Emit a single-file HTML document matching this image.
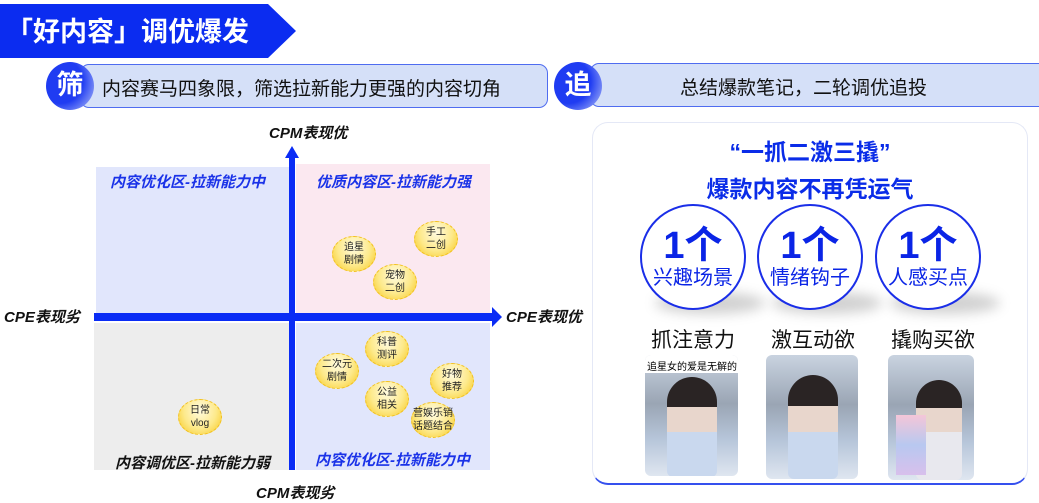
<!DOCTYPE html>
<html><head><meta charset="utf-8"><style>
*{margin:0;padding:0;box-sizing:border-box}
body{width:1039px;height:499px;background:#fff;position:relative;overflow:hidden;font-family:"Liberation Sans","Noto Sans CJK SC",sans-serif}
.a{position:absolute}
.q{position:absolute;font-weight:bold;font-style:italic;font-size:15px;white-space:nowrap}
.b{position:absolute;width:44px;height:36px;border-radius:50%;border:1.5px dashed #f3c01c;background:radial-gradient(ellipse at 50% 30%,#fffbe0 0%,#fde98a 55%,#f7c71b 100%);font-size:10px;line-height:13px;text-align:center;display:flex;align-items:center;justify-content:center;color:#222}
.ax{position:absolute;font-weight:bold;font-style:italic;font-size:14px;color:#111;white-space:nowrap}
.c{position:absolute;width:106px;height:106px;border-radius:50%;border:2px solid #1a2ee8;background:#fff;text-align:center;color:#0a24e6}
.c .n{font-size:38px;font-weight:bold;line-height:40px;margin-top:20px}
.c .t{font-size:20px;line-height:24px}
.sh{position:absolute;width:110px;height:22px;border-radius:50%;background:rgba(0,0,0,0.18);filter:blur(6px)}
.lab{position:absolute;font-size:21px;color:#111;white-space:nowrap}
.ph{position:absolute;border-radius:6px;overflow:hidden;background:linear-gradient(#c9d3e0,#9aa5b4 40%,#b7c6da 70%,#dfe6f0)}
</style></head><body>
<svg class="a" style="left:0;top:4px" width="300" height="54"><polygon points="0,0 268,0 296,27 268,54 0,54" fill="#0b2cf0"/></svg>
<div class="a" style="left:6px;top:10px;color:#fff;font-size:27px;font-weight:bold;white-space:nowrap">「好内容」调优爆发</div>
<div class="a" style="left:80px;top:64px;width:468px;height:44px;background:#d5e0f8;border:1.5px solid #4f6cf0;border-radius:9px"></div>
<div class="a" style="left:46px;top:62px;width:48px;height:48px;border-radius:50%;background:radial-gradient(circle at 30% 40%,#1f3cf2 50%,#8b9cf6 85%,#dde3fb);color:#fff;font-size:27px;font-weight:bold;text-align:center;line-height:46px">筛</div>
<div class="a" style="left:102px;top:74px;font-size:19px;color:#111;white-space:nowrap">内容赛马四象限，筛选拉新能力更强的内容切角</div>
<div class="a" style="left:590px;top:63px;width:460px;height:44px;background:#d5e0f8;border:1.5px solid #4f6cf0;border-radius:9px"></div>
<div class="a" style="left:554px;top:62px;width:48px;height:48px;border-radius:50%;background:radial-gradient(circle at 30% 40%,#1f3cf2 50%,#8b9cf6 85%,#dde3fb);color:#fff;font-size:27px;font-weight:bold;text-align:center;line-height:46px">追</div>
<div class="a" style="left:680px;top:73px;font-size:19px;color:#111;white-space:nowrap">总结爆款笔记，二轮调优追投</div>
<div class="a" style="left:96px;top:167px;width:196px;height:146px;background:#e1e6fc"></div>
<div class="a" style="left:296px;top:164px;width:194px;height:149px;background:#fbe8f0"></div>
<div class="a" style="left:94px;top:323px;width:198px;height:147px;background:#ededed"></div>
<div class="a" style="left:296px;top:323px;width:194px;height:147px;background:#e1e6fc"></div>
<div class="q" style="left:110px;top:171px;color:#1a32e8">内容优化区-拉新能力中</div>
<div class="q" style="left:316px;top:171px;color:#1a32e8">优质内容区-拉新能力强</div>
<div class="q" style="left:115px;top:452px;color:#111">内容调优区-拉新能力弱</div>
<div class="q" style="left:315px;top:449px;color:#1a32e8">内容优化区-拉新能力中</div>
<svg class="a" style="left:0;top:0" width="1039" height="499">
<rect x="289" y="156" width="6" height="314" fill="#0a2cf5"/>
<polygon points="285,158 292,146 299,158" fill="#0a2cf5"/>
<rect x="94" y="313" width="400" height="8" fill="#0a2cf5"/>
<polygon points="492,307 502,317 492,327" fill="#0a2cf5"/>
</svg>
<div class="ax" style="left:269px;top:122px;font-size:15px">CPM表现优</div>
<div class="ax" style="left:4px;top:306px;font-size:15px">CPE表现劣</div>
<div class="ax" style="left:506px;top:306px;font-size:15px">CPE表现优</div>
<div class="ax" style="left:256px;top:482px;font-size:15px">CPM表现劣</div>
<div class="b" style="left:332px;top:236px">追星<br>剧情</div>
<div class="b" style="left:414px;top:221px">手工<br>二创</div>
<div class="b" style="left:373px;top:264px">宠物<br>二创</div>
<div class="b" style="left:365px;top:331px">科普<br>测评</div>
<div class="b" style="left:315px;top:353px">二次元<br>剧情</div>
<div class="b" style="left:430px;top:363px">好物<br>推荐</div>
<div class="b" style="left:365px;top:381px">公益<br>相关</div>
<div class="b" style="left:411px;top:402px">营娱乐销<br>话题结合</div>
<div class="b" style="left:178px;top:399px">日常<br>vlog</div>
<div class="a" style="left:592px;top:122px;width:436px;height:363px;border:1.5px solid #e4e8f6;border-bottom:2px solid #3550ee;border-radius:16px;background:#fff"></div>
<div class="a" style="left:592px;top:133px;width:436px;text-align:center;font-size:23px;font-weight:bold;color:#0a2ce8">“一抓二激三撬”</div>
<div class="a" style="left:592px;top:170px;width:436px;text-align:center;font-size:23px;font-weight:bold;color:#0a2ce8">爆款内容不再凭运气</div>
<div class="sh" style="left:655px;top:292px"></div>
<div class="sh" style="left:772px;top:292px"></div>
<div class="sh" style="left:890px;top:292px"></div>
<div class="c" style="left:640px;top:204px"><div class="n">1个</div><div class="t">兴趣场景</div></div>
<div class="c" style="left:757px;top:204px"><div class="n">1个</div><div class="t">情绪钩子</div></div>
<div class="c" style="left:875px;top:204px"><div class="n">1个</div><div class="t">人感买点</div></div>
<div class="lab" style="left:651px;top:324px">抓注意力</div>
<div class="lab" style="left:771px;top:324px">激互动欲</div>
<div class="lab" style="left:891px;top:324px">撬购买欲</div>
<div class="ph" style="left:645px;top:355px;width:93px;height:121px"><div class="a" style="left:0;top:0;width:93px;height:18px;background:#fff;font-size:10px;padding:3px 2px;white-space:nowrap">追星女的爱是无解的</div><div class="a" style="left:22px;top:22px;width:50px;height:100px;border-radius:25px 25px 6px 6px;background:linear-gradient(#2a2424 30%,#e8d6cc 30%,#e8d6cc 55%,#c9d8ee 55%)"></div></div>
<div class="ph" style="left:766px;top:355px;width:92px;height:124px"><div class="a" style="left:22px;top:20px;width:50px;height:104px;border-radius:25px 25px 6px 6px;background:linear-gradient(#2a2424 30%,#e8d6cc 30%,#e8d6cc 55%,#c9d8ee 55%)"></div></div>
<div class="ph" style="left:888px;top:355px;width:86px;height:125px"><div class="a" style="left:28px;top:25px;width:46px;height:100px;border-radius:23px 23px 6px 6px;background:linear-gradient(#2a2424 28%,#e8d6cc 28%,#e8d6cc 52%,#e8e8ee 52%)"></div><div class="a" style="left:8px;top:60px;width:30px;height:60px;background:linear-gradient(#f4c6d8,#b8c8f0,#d8c0ec)"></div></div>
</body></html>
